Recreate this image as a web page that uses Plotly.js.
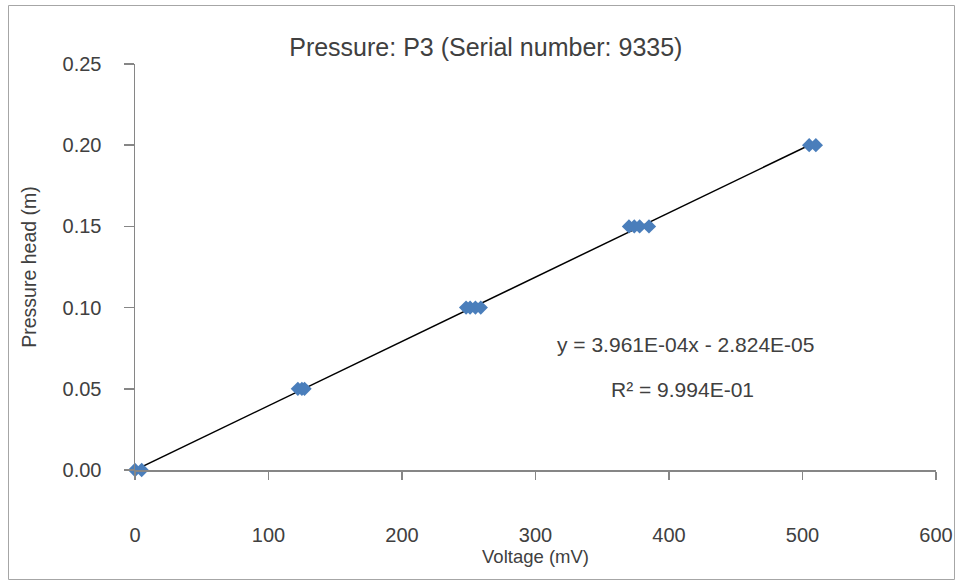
<!DOCTYPE html>
<html>
<head>
<meta charset="utf-8">
<script src="https://cdn.plot.ly/plotly-3.0.1.min.js"></script>
<style>html,body{margin:0;padding:0;background:#fff;}#chart{width:960px;height:581px;}</style>
</head>
<body>
<div id="chart"></div>
<script>
// Data
const voltage = [0, 5, 122, 125, 127, 248, 251, 255, 259, 370, 374, 378, 385, 505, 510];
const pressureHead = [0, 0, 0.05, 0.05, 0.05, 0.10, 0.10, 0.10, 0.10, 0.15, 0.15, 0.15, 0.15, 0.20, 0.20];
const fitSlope = 3.961e-4;
const fitIntercept = -2.824e-5;
const fitRange = [0, 510];
const xTicks = [0, 100, 200, 300, 400, 500, 600];
const yTicks = [0, 0.05, 0.10, 0.15, 0.20, 0.25];
const chartTitle = 'Pressure: P3 (Serial number: 9335)';
const xTitle = 'Voltage (mV)';
const yTitle = 'Pressure head (m)';
const eqText = 'y = 3.961E-04x - 2.824E-05';
const r2Text = 'R² = 9.994E-01';

const fitY = fitRange.map(x => fitSlope * x + fitIntercept);

const font = 'Liberation Sans, Arial, sans-serif';
const txt = '#404040';
const axisCol = '#868686';

const traces = [
  {
    x: fitRange, y: fitY, type: 'scatter', mode: 'lines',
    line: {color: '#000000', width: 1.5}, hoverinfo: 'skip', cliponaxis: false
  },
  {
    x: voltage, y: pressureHead, type: 'scatter', mode: 'markers',
    marker: {symbol: 'diamond', size: 11, color: '#4a7ebb', line: {width: 0}},
    cliponaxis: false
  }
];

const layout = {
  width: 960, height: 581,
  margin: {l: 135, r: 24, t: 64, b: 111},
  paper_bgcolor: '#ffffff', plot_bgcolor: '#ffffff',
  showlegend: false,
  hovermode: false,
  font: {family: font, color: txt, size: 20},
  title: {
    text: chartTitle, font: {family: font, size: 25, color: txt},
    xref: 'paper', x: 0.438, xanchor: 'center',
    yref: 'container', y: 1 - 47/581, yanchor: 'middle'
  },
  xaxis: {
    range: [0, 600], tickvals: xTicks, ticktext: xTicks.map(String),
    showgrid: false, zeroline: false,
    showline: true, linecolor: axisCol, linewidth: 1.5,
    ticks: 'outside', ticklen: 8, tickcolor: axisCol, tickwidth: 1.5,
    ticklabelstandoff: 38,
    tickfont: {family: font, size: 20, color: txt},
    title: {text: xTitle, font: {family: font, size: 18.5, color: txt}, standoff: 5}
  },
  yaxis: {
    range: [0, 0.25], tickvals: yTicks, ticktext: yTicks.map(v => v.toFixed(2)),
    showgrid: false, zeroline: false,
    showline: true, linecolor: axisCol, linewidth: 1.5,
    ticks: 'outside', ticklen: 10, tickcolor: axisCol, tickwidth: 1.5,
    ticklabelstandoff: 18,
    tickfont: {family: font, size: 20, color: txt},
    title: {text: yTitle, font: {family: font, size: 19.5, color: txt}, standoff: 20}
  },
  annotations: [
    {text: eqText, x: 412, y: 0.077, xref: 'x', yref: 'y', showarrow: false,
     xanchor: 'center', yanchor: 'middle', font: {family: font, size: 21, color: txt}},
    {text: r2Text, x: 410, y: 0.0493, xref: 'x', yref: 'y', showarrow: false,
     xanchor: 'center', yanchor: 'middle', font: {family: font, size: 21, color: txt}}
  ],
  shapes: [
    {type: 'rect', xref: 'paper', yref: 'paper',
     x0: (8.5 - 135)/801, x1: (954.5 - 135)/801,
     y0: (470 - 579.5)/406, y1: (470 - 5.5)/406,
     line: {color: '#a6a6a6', width: 1}, fillcolor: 'rgba(0,0,0,0)', layer: 'below'}
  ]
};

Plotly.newPlot('chart', traces, layout, {displayModeBar: false, staticPlot: true});
</script>
</body>
</html>
